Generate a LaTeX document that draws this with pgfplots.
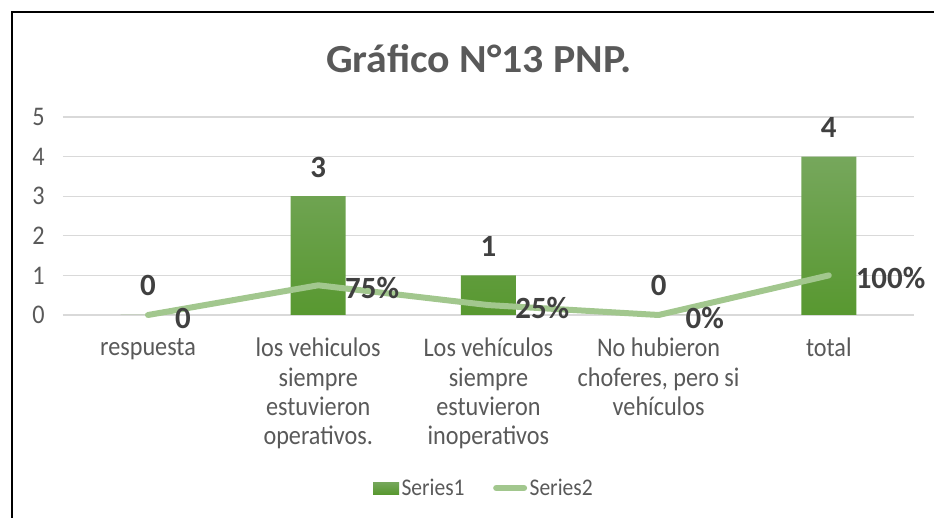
\documentclass[border=0pt]{standalone}
\usepackage{fontspec}
\setmainfont{Carlito}[FakeStretch=0.9]
\newfontfamily\titlefont{Carlito}[FakeStretch=1.05]
\newfontfamily\lblfont{Carlito}[FakeStretch=1.0]
\usepackage{pgfplots}
\pgfplotsset{compat=1.18}
\definecolor{bartop}{RGB}{118,167,92}
\definecolor{barbot}{RGB}{88,152,48}
\definecolor{linegreen}{RGB}{162,199,142}
\definecolor{txt}{RGB}{89,89,89}
\definecolor{lbl}{RGB}{64,64,64}
\definecolor{gridc}{RGB}{217,217,217}
\pgfplotsset{
  barleg/.style={legend image code/.code={\path[##1,/tikz/.cd,draw=none] (0bp,-6bp) rectangle (26bp,6bp);}},
  lineleg/.style={legend image code/.code={\draw[##1] (2bp,0bp) -- (30bp,0bp);}},
}

\begin{document}
\begin{tikzpicture}[x=1bp,y=1bp]
\path[use as bounding box] (0,0) rectangle (934,518);
\draw[line width=2bp] (12.3,0) -- (12.3,505.5) -- (934,505.5);
\node[anchor=base, font=\fontsize{40}{44}\titlefont\bfseries, text=txt, inner sep=0]
  at (479,445.5) {Gráfico N°13 PNP.};
\begin{axis}[
  at={(148bp,203bp)}, anchor=origin,
  scale only axis, width=851bp, height=198bp,
  xmin=-0.5, xmax=4.5, ymin=0, ymax=5,
  clip=false,
  /pgf/number format/assume math mode=true,
  axis line style={draw=none},
  major tick length=0pt,
  ymajorgrids, grid style={gridc, line width=1.3bp},
  xtick={0,...,4},
  xticklabels={respuesta,
    {los vehiculos\\siempre\\estuvieron\\operativos.},
    {Los vehículos\\siempre\\estuvieron\\inoperativos},
    {No hubieron\\choferes, pero si\\vehículos},
    total},
  ytick={0,...,5},
  tick label style={font=\fontsize{27}{29.3}\selectfont, text=txt, inner sep=0pt},
  yticklabel style={xshift=-18bp},
  xticklabel style={align=center, yshift=-23bp},
  legend style={at={(0.495,-0.874)}, anchor=center, draw=none, fill=none,
    legend columns=2, font=\fontsize{24}{27}\selectfont, text=txt,
    nodes={inner sep=2.5bp},
    /tikz/every even column/.append style={column sep=26bp}},
  legend cell align=left,
]
\addplot[ybar, bar width=55bp, draw=none, top color=bartop, bottom color=barbot, barleg]
  coordinates {(0,0) (1,3) (2,1) (3,0) (4,4)};
\addlegendentry{Series1}
\addplot[linegreen, line width=6bp, line cap=round, line join=round, mark=none, lineleg,
  nodes near coords, point meta=explicit symbolic,
  every node near coord/.style={anchor=west, xshift=24bp, yshift=-3bp,
    font=\fontsize{31}{34}\lblfont\bfseries, text=lbl, inner sep=0pt}]
  coordinates {(0,0)[0] (1,0.75)[75\%] (2,0.25)[25\%] (3,0)[0\%] (4,1)[100\%]};
\addlegendentry{Series2}
\addplot[draw=none, mark=none, forget plot, nodes near coords,
  every node near coord/.style={anchor=base, yshift=19bp,
    font=\fontsize{31}{34}\lblfont\bfseries, text=lbl, inner sep=0pt}]
  coordinates {(0,0) (1,3) (2,1) (3,0) (4,4)};
\end{axis}
\end{tikzpicture}
\end{document}
